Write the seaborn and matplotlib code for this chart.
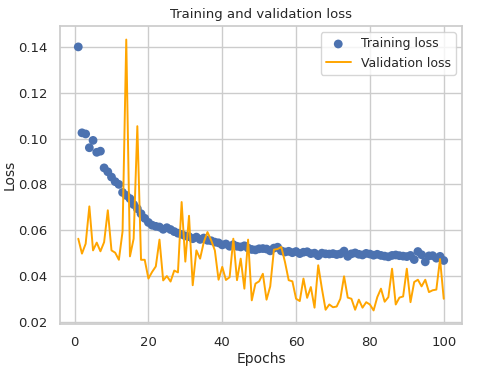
import numpy as np
import pandas as pd
import matplotlib
matplotlib.use('Agg')
import matplotlib.pyplot as plt
import seaborn as sns

epochs = list(range(1, 101))

train_loss = [
    0.1400, 0.1025, 0.1020, 0.0960, 0.0992, 0.0940, 0.0945, 0.0872, 0.0855, 0.0832,
    0.0812, 0.0800, 0.0765, 0.0752, 0.0738, 0.0712, 0.0694, 0.0672, 0.0652, 0.0634,
    0.0622, 0.0617, 0.0614, 0.0604, 0.0611, 0.0603, 0.0594, 0.0587, 0.0582, 0.0575,
    0.0572, 0.0563, 0.0570, 0.0560, 0.0566, 0.0556, 0.0554, 0.0548, 0.0545, 0.0536,
    0.0540, 0.0530, 0.0537, 0.0530, 0.0527, 0.0532, 0.0522, 0.0516, 0.0514, 0.0519,
    0.0520, 0.0518, 0.0510, 0.0522, 0.0526, 0.0510, 0.0505, 0.0508, 0.0502, 0.0507,
    0.0498, 0.0504, 0.0506, 0.0498, 0.0500, 0.0489, 0.0500, 0.0497, 0.0496, 0.0498,
    0.0494, 0.0497, 0.0509, 0.0486, 0.0497, 0.0501, 0.0495, 0.0492, 0.0499, 0.0496,
    0.0491, 0.0495, 0.0490, 0.0487, 0.0484, 0.0490, 0.0492, 0.0489, 0.0487, 0.0485,
    0.0490, 0.0472, 0.0507, 0.0493, 0.0462, 0.0488, 0.0489, 0.0478, 0.0486, 0.0468,
]

val_loss = [
    0.0563, 0.0498, 0.0541, 0.0704, 0.0512, 0.0546, 0.0508, 0.0548, 0.0687, 0.0512,
    0.0502, 0.0471, 0.0595, 0.1432, 0.0486, 0.0563, 0.1054, 0.0471, 0.0471, 0.0389,
    0.0418, 0.0442, 0.0559, 0.0381, 0.0400, 0.0376, 0.0424, 0.0416, 0.0723, 0.0463,
    0.0663, 0.0360, 0.0512, 0.0476, 0.0548, 0.0592, 0.0556, 0.0512, 0.0384, 0.0440,
    0.0383, 0.0395, 0.0563, 0.0382, 0.0476, 0.0345, 0.0559, 0.0294, 0.0367, 0.0377,
    0.0410, 0.0297, 0.0355, 0.0515, 0.0518, 0.0527, 0.0461, 0.0382, 0.0377, 0.0301,
    0.0291, 0.0389, 0.0305, 0.0352, 0.0262, 0.0447, 0.0345, 0.0253, 0.0276, 0.0264,
    0.0267, 0.0301, 0.0399, 0.0306, 0.0301, 0.0253, 0.0297, 0.0262, 0.0286, 0.0276,
    0.0250, 0.0308, 0.0345, 0.0288, 0.0308, 0.0432, 0.0276, 0.0306, 0.0311, 0.0432,
    0.0286, 0.0374, 0.0384, 0.0355, 0.0384, 0.0330, 0.0338, 0.0341, 0.0474, 0.0301,
]

df = pd.DataFrame({'epoch': epochs, 'train': train_loss, 'val': val_loss})

sns.set_theme(style='whitegrid')
plt.rcParams['font.family'] = ['DejaVu Sans']

fig = plt.figure(figsize=(4.8, 3.69), dpi=100)
ax = fig.add_axes([0.125, 0.122, 0.8375, 0.8075])

sns.scatterplot(x='epoch', y='train', data=df, ax=ax, color='#4C72B0',
                s=40, edgecolor='none', label='Training loss')
sns.lineplot(x='epoch', y='val', data=df, ax=ax, color='orange',
             linewidth=1.4, label='Validation loss')

ax.set_title('Training and validation loss', fontsize=9.5)
ax.set_xlabel('Epochs', fontsize=10, labelpad=2)
ax.set_ylabel('Loss', fontsize=10, labelpad=1)
ax.tick_params(labelsize=9.5, pad=3)
ax.set_xticks([0, 20, 40, 60, 80, 100])
ax.set_yticks([0.02, 0.04, 0.06, 0.08, 0.10, 0.12, 0.14])
ax.legend(loc='upper right', fontsize=9)

fig.savefig('out.png', dpi=100)
